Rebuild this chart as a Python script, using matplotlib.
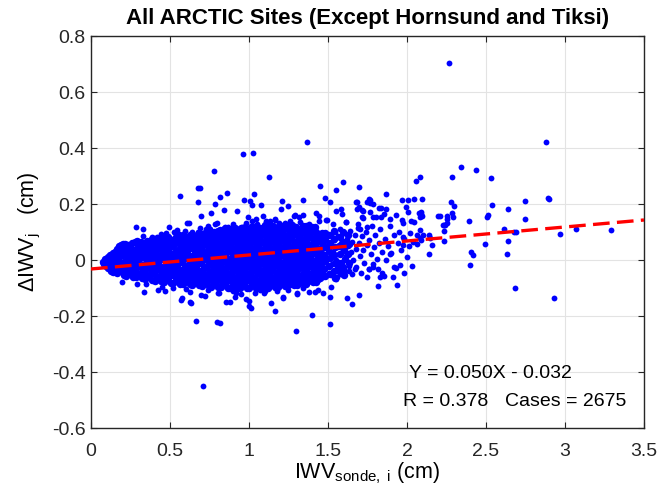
import numpy as np
import matplotlib
matplotlib.use("Agg")
import matplotlib.pyplot as plt

plt.rcParams['font.family'] = ['Liberation Sans', 'DejaVu Sans']
plt.rcParams['mathtext.fontset'] = 'custom'
plt.rcParams['mathtext.rm'] = 'Liberation Sans'
plt.rcParams['mathtext.it'] = 'Liberation Sans:italic'
plt.rcParams['mathtext.bf'] = 'Liberation Sans:bold'

# ---- data (IWV_sonde in cm, delta IWV in cm) ----
# narrow tip of the cloud near x=0.1
tip_x = [0.076, 0.085, 0.09, 0.095, 0.1, 0.105, 0.11, 0.112, 0.118, 0.12,
         0.125, 0.128, 0.13, 0.135, 0.138, 0.142, 0.145, 0.148, 0.15, 0.152]
tip_y = [-0.006, -0.014, 0.002, -0.022, -0.008, 0.01, -0.03, -0.016, 0.004, 0.018,
         -0.038, -0.024, -0.008, 0.012, 0.026, -0.044, -0.03, -0.014, 0.002, 0.03]

# dense core (0.15 - 1.6 cm), first set
core_x = [
    0.162, 0.157, 0.166, 0.159, 0.163,
    0.188, 0.193, 0.186, 0.195, 0.19,
    0.223, 0.217, 0.226, 0.219, 0.224, 0.215,
    0.247, 0.253, 0.249, 0.256, 0.244,
    0.282, 0.276, 0.284, 0.279, 0.285, 0.277,
    0.308, 0.314, 0.306, 0.312, 0.309, 0.315,
    0.343, 0.337, 0.345, 0.338, 0.341, 0.336,
    0.367, 0.373, 0.368, 0.375, 0.366, 0.372,
    0.402, 0.396, 0.404, 0.398, 0.405, 0.397, 0.401,
    0.428, 0.434, 0.427, 0.433, 0.429, 0.435,
    0.462, 0.456, 0.464, 0.457, 0.461, 0.455, 0.463,
    0.487, 0.493, 0.486, 0.494, 0.488, 0.492, 0.489,
    0.522, 0.516, 0.524, 0.517, 0.523, 0.518, 0.521,
    0.548, 0.554, 0.547, 0.553, 0.549, 0.555, 0.546,
    0.582, 0.576, 0.584, 0.577, 0.583, 0.578, 0.581, 0.585,
    0.607, 0.613, 0.606, 0.614, 0.608, 0.612, 0.609,
    0.642, 0.636, 0.644, 0.638, 0.643, 0.637, 0.641, 0.645,
    0.668, 0.674, 0.667, 0.673, 0.669, 0.675, 0.666,
    0.702, 0.696, 0.704, 0.697, 0.703, 0.698, 0.701, 0.705,
    0.728, 0.734, 0.727, 0.733, 0.729, 0.735, 0.726, 0.731,
    0.762, 0.756, 0.764, 0.757, 0.763, 0.758, 0.761, 0.765,
    0.788, 0.794, 0.787, 0.793, 0.789, 0.795, 0.786, 0.791,
    0.822, 0.816, 0.824, 0.817, 0.823, 0.818, 0.821, 0.825, 0.819,
    0.848, 0.854, 0.847, 0.853, 0.849, 0.855, 0.846, 0.851,
    0.882, 0.876, 0.884, 0.877, 0.883, 0.878, 0.881, 0.885, 0.879,
    0.908, 0.914, 0.907, 0.913, 0.909, 0.915, 0.906, 0.911, 0.912,
    0.942, 0.936, 0.944, 0.937, 0.943, 0.938, 0.941, 0.945, 0.939,
    0.968, 0.974, 0.967, 0.973, 0.969, 0.975, 0.966, 0.971, 0.972,
    1.002, 0.996, 1.004, 0.997, 1.003, 0.998, 1.001, 1.005, 0.999,
    1.028, 1.034, 1.027, 1.033, 1.029, 1.035, 1.026, 1.031, 1.032,
    1.062, 1.056, 1.064, 1.057, 1.063, 1.058, 1.061, 1.065, 1.059,
    1.088, 1.094, 1.087, 1.093, 1.089, 1.095, 1.086, 1.091, 1.092,
    1.122, 1.116, 1.124, 1.117, 1.123, 1.118, 1.121, 1.125, 1.119, 1.12,
    1.148, 1.154, 1.147, 1.153, 1.149, 1.155, 1.146, 1.151, 1.152,
    1.182, 1.176, 1.184, 1.177, 1.183, 1.178, 1.181, 1.185, 1.179,
    1.208, 1.214, 1.207, 1.213, 1.209, 1.215, 1.206, 1.211, 1.212,
    1.242, 1.236, 1.244, 1.237, 1.243, 1.238, 1.241, 1.245, 1.239,
    1.268, 1.274, 1.267, 1.273, 1.269, 1.275, 1.266, 1.271, 1.272,
    1.302, 1.296, 1.304, 1.297, 1.303, 1.298, 1.301, 1.305, 1.299,
    1.328, 1.334, 1.327, 1.333, 1.329, 1.335, 1.326, 1.331,
    1.362, 1.356, 1.364, 1.357, 1.363, 1.358, 1.361, 1.365, 1.359,
    1.388, 1.394, 1.387, 1.393, 1.389, 1.395, 1.386, 1.391,
    1.422, 1.416, 1.424, 1.417, 1.423, 1.418, 1.421, 1.425, 1.419,
    1.448, 1.454, 1.447, 1.453, 1.449, 1.455, 1.446,
    1.482, 1.476, 1.484, 1.477, 1.483, 1.478, 1.481,
    1.512, 1.507, 1.515, 1.509, 1.514, 1.506,
    1.542, 1.537, 1.545, 1.539, 1.544, 1.536, 1.541,
    1.572, 1.567, 1.575, 1.569, 1.574,
    1.602, 1.597, 1.605, 1.599, 1.604, 1.598,
    1.632, 1.627, 1.635, 1.629,
]
core_y = [
    -0.045, -0.021, 0.004, 0.026, 0.041,
    -0.036, -0.011, 0.013, 0.035, 0.054,
    -0.057, -0.032, -0.008, 0.017, 0.038, 0.058,
    -0.047, -0.022, 0.001, 0.029, 0.051,
    -0.061, -0.038, -0.011, 0.014, 0.036, 0.063,
    -0.05, -0.024, 0.002, 0.022, 0.047, 0.066,
    -0.067, -0.043, -0.015, 0.011, 0.033, 0.058,
    -0.056, -0.028, -0.005, 0.019, 0.046, 0.069,
    -0.074, -0.046, -0.021, 0.006, 0.028, 0.054, 0.075,
    -0.06, -0.036, -0.008, 0.015, 0.043, 0.066,
    -0.077, -0.053, -0.025, 0.003, 0.024, 0.051, 0.078,
    -0.065, -0.039, -0.016, 0.013, 0.037, 0.062, 0.082,
    -0.083, -0.054, -0.031, -0.002, 0.021, 0.049, 0.072,
    -0.069, -0.045, -0.016, 0.009, 0.033, 0.061, 0.084,
    -0.087, -0.058, -0.035, -0.006, 0.017, 0.045, 0.068, 0.088,
    -0.073, -0.049, -0.02, 0.005, 0.031, 0.055, 0.08,
    -0.089, -0.06, -0.037, -0.009, 0.015, 0.043, 0.067, 0.091,
    -0.075, -0.051, -0.023, 0.003, 0.027, 0.055, 0.079,
    -0.091, -0.063, -0.039, -0.011, 0.013, 0.041, 0.065, 0.093,
    -0.077, -0.053, -0.025, 0.001, 0.025, 0.053, 0.077, 0.098,
    -0.095, -0.067, -0.043, -0.015, 0.009, 0.037, 0.061, 0.089,
    -0.081, -0.057, -0.029, -0.003, 0.021, 0.049, 0.073, 0.101,
    -0.097, -0.069, -0.045, -0.017, 0.007, 0.035, 0.059, 0.087, 0.106,
    -0.083, -0.059, -0.031, -0.005, 0.019, 0.047, 0.071, 0.099,
    -0.101, -0.073, -0.049, -0.021, 0.003, 0.031, 0.055, 0.083, 0.109,
    -0.087, -0.063, -0.035, -0.011, 0.017, 0.041, 0.069, 0.093, 0.114,
    -0.099, -0.075, -0.047, -0.023, 0.005, 0.029, 0.057, 0.081, 0.107,
    -0.089, -0.061, -0.037, -0.009, 0.015, 0.043, 0.067, 0.095, 0.117,
    -0.101, -0.073, -0.049, -0.021, 0.003, 0.031, 0.055, 0.083, 0.107,
    -0.087, -0.063, -0.035, -0.011, 0.017, 0.041, 0.069, 0.093, 0.119,
    -0.099, -0.075, -0.047, -0.023, 0.005, 0.029, 0.057, 0.081, 0.109,
    -0.091, -0.063, -0.039, -0.011, 0.013, 0.041, 0.065, 0.093, 0.117,
    -0.099, -0.075, -0.047, -0.023, 0.005, 0.029, 0.057, 0.081, 0.107, 0.127,
    -0.087, -0.063, -0.035, -0.011, 0.017, 0.041, 0.069, 0.093, 0.121,
    -0.097, -0.071, -0.047, -0.019, 0.005, 0.033, 0.057, 0.085, 0.109,
    -0.085, -0.061, -0.033, -0.009, 0.019, 0.043, 0.071, 0.095, 0.123,
    -0.093, -0.069, -0.041, -0.017, 0.011, 0.035, 0.063, 0.087, 0.115,
    -0.081, -0.057, -0.029, -0.005, 0.023, 0.047, 0.075, 0.099, 0.125,
    -0.089, -0.065, -0.037, -0.013, 0.015, 0.039, 0.067, 0.091, 0.119,
    -0.077, -0.053, -0.025, -0.001, 0.027, 0.051, 0.079, 0.103,
    -0.085, -0.061, -0.033, -0.009, 0.019, 0.043, 0.071, 0.095, 0.121,
    -0.073, -0.049, -0.021, 0.003, 0.031, 0.055, 0.083, 0.107,
    -0.079, -0.055, -0.027, -0.003, 0.025, 0.049, 0.077, 0.101, 0.119,
    -0.065, -0.041, -0.013, 0.011, 0.039, 0.063, 0.089,
    -0.057, -0.033, -0.005, 0.019, 0.047, 0.071, 0.097,
    -0.05, -0.022, 0.006, 0.034, 0.062, 0.09,
    -0.064, -0.038, -0.01, 0.018, 0.046, 0.074, 0.104,
    -0.04, -0.012, 0.022, 0.05, 0.082,
    -0.055, -0.025, 0.004, 0.036, 0.066, 0.1,
    -0.01, 0.022, 0.058, 0.088,
]

# dense core, second set (between the columns of the first)
core2_x = [
    0.176, 0.173, 0.178, 0.174, 0.177,
    0.206, 0.203, 0.208, 0.204, 0.207, 0.202,
    0.236, 0.233, 0.238, 0.234, 0.237,
    0.266, 0.263, 0.268, 0.264, 0.267, 0.262,
    0.296, 0.293, 0.298, 0.294, 0.297, 0.292,
    0.326, 0.323, 0.328, 0.324, 0.327, 0.322,
    0.356, 0.353, 0.358, 0.354, 0.357, 0.352,
    0.386, 0.383, 0.388, 0.384, 0.387, 0.382, 0.385,
    0.416, 0.413, 0.418, 0.414, 0.417, 0.412,
    0.446, 0.443, 0.448, 0.444, 0.447, 0.442, 0.445,
    0.476, 0.473, 0.478, 0.474, 0.477, 0.472, 0.475,
    0.506, 0.503, 0.508, 0.504, 0.507, 0.502, 0.505,
    0.536, 0.533, 0.538, 0.534, 0.537, 0.532, 0.535,
    0.566, 0.563, 0.568, 0.564, 0.567, 0.562, 0.565, 0.569,
    0.596, 0.593, 0.598, 0.594, 0.597, 0.592, 0.595,
    0.626, 0.623, 0.628, 0.624, 0.627, 0.622, 0.625, 0.629,
    0.656, 0.653, 0.658, 0.654, 0.657, 0.652, 0.655,
    0.686, 0.683, 0.688, 0.684, 0.687, 0.682, 0.685, 0.689,
    0.716, 0.713, 0.718, 0.714, 0.717, 0.712, 0.715, 0.719,
    0.746, 0.743, 0.748, 0.744, 0.747, 0.742, 0.745, 0.749,
    0.776, 0.773, 0.778, 0.774, 0.777, 0.772, 0.775, 0.779,
    0.806, 0.803, 0.808, 0.804, 0.807, 0.802, 0.805, 0.809, 0.801,
    0.836, 0.833, 0.838, 0.834, 0.837, 0.832, 0.835, 0.839,
    0.866, 0.863, 0.868, 0.864, 0.867, 0.862, 0.865, 0.869, 0.861,
    0.896, 0.893, 0.898, 0.894, 0.897, 0.892, 0.895, 0.899, 0.891,
    0.926, 0.923, 0.928, 0.924, 0.927, 0.922, 0.925, 0.929, 0.921,
    0.956, 0.953, 0.958, 0.954, 0.957, 0.952, 0.955, 0.959, 0.951,
    0.986, 0.983, 0.988, 0.984, 0.987, 0.982, 0.985, 0.989, 0.981,
    1.016, 1.013, 1.018, 1.014, 1.017, 1.012, 1.015, 1.019, 1.011,
    1.046, 1.043, 1.048, 1.044, 1.047, 1.042, 1.045, 1.049, 1.041,
    1.076, 1.073, 1.078, 1.074, 1.077, 1.072, 1.075, 1.079, 1.071,
    1.106, 1.103, 1.108, 1.104, 1.107, 1.102, 1.105, 1.109, 1.101, 1.104,
    1.136, 1.133, 1.138, 1.134, 1.137, 1.132, 1.135, 1.139, 1.131,
    1.166, 1.163, 1.168, 1.164, 1.167, 1.162, 1.165, 1.169, 1.161,
    1.196, 1.193, 1.198, 1.194, 1.197, 1.192, 1.195, 1.199, 1.191,
    1.226, 1.223, 1.228, 1.224, 1.227, 1.222, 1.225, 1.229, 1.221,
    1.256, 1.253, 1.258, 1.254, 1.257, 1.252, 1.255, 1.259, 1.251,
    1.286, 1.283, 1.288, 1.284, 1.287, 1.282, 1.285, 1.289, 1.281,
    1.316, 1.313, 1.318, 1.314, 1.317, 1.312, 1.315, 1.319,
    1.346, 1.343, 1.348, 1.344, 1.347, 1.342, 1.345, 1.349, 1.341,
    1.376, 1.373, 1.378, 1.374, 1.377, 1.372, 1.375, 1.379,
    1.406, 1.403, 1.408, 1.404, 1.407, 1.402, 1.405, 1.409, 1.401,
    1.436, 1.433, 1.438, 1.434, 1.437, 1.432, 1.435,
    1.466, 1.463, 1.468, 1.464, 1.467, 1.462, 1.465,
]
core2_y = [
    -0.038, -0.012, 0.014, 0.036, 0.05,
    -0.055, -0.031, -0.007, 0.018, 0.04, 0.057,
    -0.048, -0.023, 0.002, 0.028, 0.052,
    -0.06, -0.036, -0.012, 0.015, 0.037, 0.061,
    -0.051, -0.025, 0.001, 0.024, 0.048, 0.067,
    -0.065, -0.042, -0.016, 0.01, 0.035, 0.06,
    -0.054, -0.029, -0.004, 0.02, 0.045, 0.068,
    -0.072, -0.047, -0.02, 0.005, 0.029, 0.053, 0.074,
    -0.061, -0.035, -0.009, 0.016, 0.042, 0.067,
    -0.076, -0.052, -0.026, 0.002, 0.025, 0.05, 0.076,
    -0.066, -0.04, -0.015, 0.012, 0.038, 0.063, 0.08,
    -0.081, -0.055, -0.03, -0.003, 0.022, 0.048, 0.073,
    -0.07, -0.044, -0.017, 0.008, 0.034, 0.06, 0.083,
    -0.085, -0.059, -0.034, -0.007, 0.018, 0.044, 0.069, 0.087,
    -0.074, -0.048, -0.021, 0.006, 0.03, 0.056, 0.081,
    -0.087, -0.061, -0.036, -0.01, 0.016, 0.042, 0.068, 0.089,
    -0.076, -0.05, -0.024, 0.004, 0.028, 0.054, 0.078,
    -0.089, -0.064, -0.038, -0.012, 0.014, 0.04, 0.066, 0.09,
    -0.078, -0.052, -0.026, 0.002, 0.026, 0.052, 0.076, 0.097,
    -0.093, -0.068, -0.042, -0.016, 0.01, 0.036, 0.062, 0.088,
    -0.082, -0.056, -0.03, -0.002, 0.022, 0.048, 0.074, 0.1,
    -0.095, -0.07, -0.044, -0.018, 0.008, 0.034, 0.06, 0.086, 0.104,
    -0.084, -0.058, -0.032, -0.004, 0.02, 0.046, 0.072, 0.098,
    -0.099, -0.074, -0.048, -0.022, 0.004, 0.03, 0.056, 0.082, 0.107,
    -0.088, -0.062, -0.036, -0.01, 0.016, 0.042, 0.068, 0.094, 0.112,
    -0.1, -0.074, -0.048, -0.022, 0.004, 0.03, 0.056, 0.082, 0.106,
    -0.087, -0.062, -0.036, -0.01, 0.016, 0.042, 0.068, 0.094, 0.115,
    -0.099, -0.074, -0.048, -0.022, 0.004, 0.03, 0.056, 0.082, 0.108,
    -0.088, -0.062, -0.036, -0.01, 0.016, 0.042, 0.068, 0.094, 0.118,
    -0.1, -0.074, -0.048, -0.022, 0.004, 0.03, 0.056, 0.082, 0.108,
    -0.09, -0.064, -0.038, -0.012, 0.014, 0.04, 0.066, 0.092, 0.116,
    -0.1, -0.074, -0.048, -0.022, 0.004, 0.03, 0.056, 0.082, 0.106, 0.126,
    -0.088, -0.062, -0.036, -0.01, 0.016, 0.042, 0.068, 0.094, 0.12,
    -0.098, -0.072, -0.046, -0.02, 0.006, 0.032, 0.058, 0.084, 0.108,
    -0.086, -0.06, -0.034, -0.008, 0.018, 0.044, 0.07, 0.096, 0.122,
    -0.094, -0.068, -0.042, -0.016, 0.01, 0.036, 0.062, 0.088, 0.114,
    -0.082, -0.056, -0.03, -0.004, 0.022, 0.048, 0.074, 0.1, 0.124,
    -0.09, -0.064, -0.038, -0.012, 0.014, 0.04, 0.066, 0.092, 0.118,
    -0.078, -0.052, -0.026, 0.0, 0.026, 0.052, 0.078, 0.102,
    -0.084, -0.06, -0.034, -0.008, 0.018, 0.044, 0.07, 0.096, 0.12,
    -0.074, -0.048, -0.022, 0.004, 0.03, 0.056, 0.082, 0.106,
    -0.078, -0.054, -0.028, -0.002, 0.024, 0.05, 0.076, 0.1, 0.118,
    -0.066, -0.04, -0.014, 0.012, 0.038, 0.064, 0.088,
    -0.058, -0.032, -0.006, 0.02, 0.046, 0.072, 0.096,
]

# points above the core
upper_x = [0.283, 0.331, 0.494, 0.331, 0.386, 0.443, 0.473, 0.506, 0.525, 0.546,
           0.61, 0.618, 0.595, 0.597, 0.637, 0.635, 0.692, 0.728, 0.755, 0.749,
           0.787, 0.795, 0.834, 0.844, 0.85, 0.865, 0.956, 0.565, 0.675, 0.69,
           0.679, 0.785, 0.816, 0.863, 0.781, 0.964, 1.025, 1.125, 1.365, 1.034,
           0.966, 1.008, 1.019, 1.074, 1.207, 1.34, 1.451, 1.481, 1.515, 1.553,
           1.595, 1.698, 0.762, 0.698, 0.844, 0.926, 0.992, 1.091, 1.106, 1.162,
           1.2, 1.249, 1.291, 1.314, 1.342, 1.422, 1.489, 1.551, 1.582, 1.587,
           1.614, 1.046, 1.166, 1.226, 1.285, 1.445, 1.492, 1.532, 1.616, 1.692,
           0.9, 0.98, 1.05, 1.13, 1.19, 1.26, 1.32, 1.38, 1.44, 1.02,
           0.74, 0.68, 0.42, 0.56]
upper_y = [0.118, 0.112, 0.118, 0.087, 0.081, 0.092, 0.095, 0.074, 0.101, 0.107,
           0.132, 0.133, 0.087, 0.104, 0.101, 0.092, 0.113, 0.11, 0.112, 0.095,
           0.128, 0.134, 0.101, 0.115, 0.119, 0.117, 0.119, 0.228, 0.256, 0.256,
           0.206, 0.199, 0.224, 0.24, 0.318, 0.377, 0.382, 0.295, 0.42, 0.235,
           0.213, 0.212, 0.196, 0.196, 0.21, 0.213, 0.264, 0.22, 0.207, 0.249,
           0.277, 0.26, 0.168, 0.156, 0.177, 0.174, 0.155, 0.156, 0.14, 0.143,
           0.181, 0.193, 0.161, 0.155, 0.162, 0.167, 0.144, 0.176, 0.183, 0.164,
           0.135, 0.145, 0.145, 0.131, 0.159, 0.157, 0.143, 0.127, 0.136, 0.127,
           0.128, 0.132, 0.13, 0.138, 0.134, 0.141, 0.136, 0.13, 0.138, 0.14,
           0.12, 0.1, 0.082, 0.093]

# points below the core
lower_x = [0.196, 0.338, 0.291, 0.422, 0.574, 0.629, 0.665, 0.795, 0.818, 0.854,
           0.88, 0.812, 0.92, 0.979, 1.002, 1.011, 1.0, 1.04, 1.07, 1.097,
           1.141, 1.167, 1.215, 1.262, 1.302, 1.314, 1.3, 1.399, 1.382, 1.418,
           1.435, 1.47, 1.513, 1.519, 1.549, 1.555, 1.618, 1.652, 1.694, 1.635,
           1.669, 1.758, 1.814, 0.711, 0.913, 1.217, 1.304, 1.515, 0.627, 0.696,
           0.802, 0.57, 0.631, 0.35, 0.45, 0.52, 0.6, 0.74, 0.9, 0.95,
           1.1, 1.18, 1.34, 1.25, 0.47, 0.72]
lower_y = [-0.08, -0.115, -0.086, -0.107, -0.136, -0.15, -0.216, -0.22, -0.225, -0.151,
           -0.151, -0.119, -0.118, -0.14, -0.146, -0.17, -0.163, -0.119, -0.107, -0.119,
           -0.154, -0.182, -0.131, -0.09, -0.118, -0.086, -0.252, -0.196, -0.113, -0.113,
           -0.106, -0.118, -0.228, -0.095, -0.068, -0.06, -0.135, -0.158, -0.124, -0.038,
           -0.032, -0.032, -0.092, -0.451, -0.133, -0.135, -0.123, -0.131, -0.115, -0.125,
           -0.119, -0.143, -0.152, -0.085, -0.095, -0.1, -0.105, -0.108, -0.112, -0.12,
           -0.112, -0.11, -0.1, -0.108, -0.11, -0.13]

# thinner cloud 1.5 - 2.1 cm
mid_x = [1.505, 1.51, 1.515, 1.52, 1.525, 1.53, 1.535, 1.54, 1.545, 1.55,
         1.555, 1.56, 1.565, 1.57, 1.575, 1.58, 1.585, 1.59, 1.595, 1.6,
         1.61, 1.615, 1.62, 1.625, 1.63, 1.64, 1.645, 1.65, 1.655, 1.66,
         1.67, 1.675, 1.68, 1.69, 1.695, 1.7, 1.71, 1.715, 1.72, 1.73,
         1.74, 1.745, 1.75, 1.76, 1.77, 1.78, 1.785, 1.79, 1.8, 1.81,
         1.82, 1.83, 1.84, 1.845, 1.86, 1.87, 1.88, 1.89, 1.9, 1.92,
         1.93, 1.94, 1.95, 1.96, 1.98, 2.0, 2.01, 2.02, 2.03,
         1.686, 1.757, 1.766, 1.787, 1.717, 1.745, 1.703, 1.686, 1.713, 1.766,
         1.804, 1.834, 1.865, 1.857, 1.835, 1.894, 1.928, 1.72, 1.72, 1.787,
         1.825, 1.68, 1.694, 1.747, 1.768, 1.869]
mid_y = [-0.045, 0.01, 0.052, 0.09, -0.015, 0.03, 0.072, -0.06, 0.1, 0.0,
         0.045, -0.03, 0.085, 0.02, 0.11, -0.05, 0.06, -0.008, 0.035, 0.095,
         -0.038, 0.015, 0.075, 0.05, -0.02, 0.105, 0.03, -0.05, 0.065, 0.0,
         0.09, 0.04, -0.025, 0.115, 0.06, 0.015, -0.045, 0.085, 0.035, -0.01,
         0.1, 0.055, -0.06, 0.07, 0.02, 0.12, -0.025, 0.045, 0.09, 0.005,
         0.06, 0.11, -0.045, 0.03, 0.075, 0.0, 0.05, 0.12, 0.025, 0.09,
         -0.03, 0.06, 0.1, 0.035, 0.075, 0.01, 0.05, 0.095, -0.02,
         0.207, 0.218, 0.205, 0.2, 0.152, 0.119, 0.11, 0.181, 0.179, 0.173,
         0.155, 0.185, 0.183, 0.163, 0.152, 0.146, 0.161, 0.176, 0.151, 0.155,
         0.185, 0.206, 0.188, 0.208, 0.214, 0.235]

# sparse points beyond ~1.75 cm
far_x = [1.97, 2.008, 2.044, 2.095, 2.055, 2.082, 1.992, 2.004, 1.966, 1.972,
         2.023, 2.044, 2.091, 2.087, 2.078, 2.093, 2.08, 2.082, 2.196, 2.253,
         2.255, 2.232, 2.241, 2.234, 2.141, 2.158, 2.141, 2.236, 2.063, 2.063,
         2.091, 2.146, 2.082, 2.099, 2.036, 1.977, 1.977, 1.956, 1.983, 1.939,
         1.911, 1.852, 1.829, 1.762, 1.787, 1.816, 1.892, 1.916,
         2.268, 2.882, 2.34, 2.435, 2.285, 2.532, 2.89, 2.9, 2.745, 2.28,
         2.297, 2.536, 2.641, 2.283, 2.293, 2.209, 2.504, 2.515, 2.749, 2.394,
         2.23, 2.251, 2.612, 2.677, 2.69, 2.641, 2.496, 2.97, 3.07, 3.293,
         2.403, 2.416, 2.397, 2.633, 2.684, 2.93]
far_y = [0.213, 0.213, 0.219, 0.219, 0.281, 0.295, 0.19, 0.173, 0.143, 0.133,
         0.14, 0.135, 0.171, 0.163, 0.167, 0.157, 0.152, 0.107, 0.157, 0.159,
         0.145, 0.124, 0.124, 0.104, 0.088, 0.055, 0.02, 0.069, 0.089, 0.056,
         0.071, 0.08, 0.079, 0.088, 0.065, 0.055, 0.082, -0.017, -0.048, -0.088,
         -0.061, -0.057, -0.06, -0.033, -0.014, -0.033, 0.023, -0.024,
         0.702, 0.421, 0.331, 0.321, 0.298, 0.292, 0.221, 0.217, 0.211, 0.207,
         0.193, 0.198, 0.181, 0.167, 0.152, 0.158, 0.155, 0.162, 0.145, 0.138,
         0.125, 0.131, 0.111, 0.099, 0.099, 0.069, 0.058, 0.094, 0.112, 0.107,
         0.029, 0.017, -0.019, 0.02, -0.099, -0.135]

# linear fit and stats
slope = 0.050
intercept = -0.032
r_value = 0.378
n_cases = 2675

xticks = [0, 0.5, 1, 1.5, 2, 2.5, 3, 3.5]
xtick_labels = ['0', '0.5', '1', '1.5', '2', '2.5', '3', '3.5']
yticks = [-0.6, -0.4, -0.2, 0, 0.2, 0.4, 0.6, 0.8]
ytick_labels = ['-0.6', '-0.4', '-0.2', '0', '0.2', '0.4', '0.6', '0.8']

dense_x = tip_x + core_x + core2_x
dense_y = tip_y + core_y + core2_y
sparse_x = upper_x + lower_x + mid_x + far_x
sparse_y = upper_y + lower_y + mid_y + far_y

fig = plt.figure(figsize=(6.72, 4.93), dpi=100)
ax = fig.add_axes([0.1354, 0.1318, 0.8229, 0.7951])

ax.plot(dense_x, dense_y, 'o', color='#0000ff', ms=5.4, mew=0, zorder=3)
ax.plot(sparse_x, sparse_y, 'o', color='#0000ff', ms=4.2, mew=0, zorder=3)

x_fit = np.array([0, 3.5])
ax.plot(x_fit, slope * x_fit + intercept, '--', color='#ff0000', lw=2.4,
        dashes=(5, 2.2), zorder=4)

ax.set_xlim(0, 3.5)
ax.set_ylim(-0.6, 0.8)
ax.set_xticks(xticks)
ax.set_xticklabels(xtick_labels)
ax.set_yticks(yticks)
ax.set_yticklabels(ytick_labels)
ax.tick_params(direction='in', length=4, width=0.8, top=True, right=True,
               labelsize=14, colors='#262626', pad=4)
ax.tick_params(axis='x', pad=11)
ax.grid(True, color='#e3e3e3', lw=0.8, zorder=0)
ax.set_axisbelow(True)
for s in ax.spines.values():
    s.set_color('#262626')
    s.set_linewidth(1.0)

ax.set_title('All ARCTIC Sites (Except Hornsund and Tiksi)', fontsize=16,
             fontweight='bold', pad=9)
ax.set_xlabel(r'IWV$_{\mathrm{sonde,\ i}}$ (cm)', fontsize=15.5, labelpad=0)
ax.set_ylabel('\u0394IWV$_{\\mathrm{j}}$   (cm)', fontsize=15.5, labelpad=6)

ax.text(2.01, -0.406, 'Y = %.3fX - %.3f' % (slope, -intercept), fontsize=14,
        va='center', ha='left')
ax.text(1.975, -0.504, 'R = %.3f' % r_value, fontsize=14, va='center', ha='left')
ax.text(2.62, -0.504, 'Cases = %d' % n_cases, fontsize=14, va='center', ha='left')

fig.savefig('out.png', dpi=100)
